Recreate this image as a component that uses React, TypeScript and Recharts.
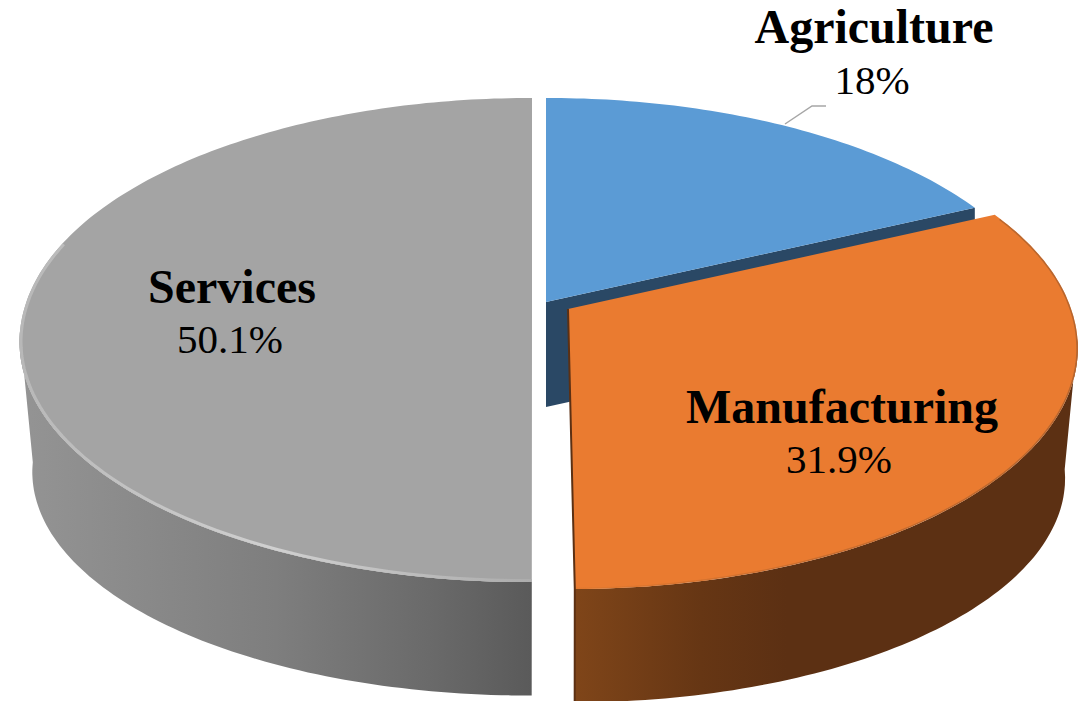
import { Pie, PieChart } from "recharts";

const categories = ["Agriculture", "Manufacturing", "Services"];
const shares = [18, 31.9, 50.1];
const shareLabels = ["18%", "31.9%", "50.1%"];

const chartData = categories.map((name, i) => ({ name, value: shares[i] }));

// projection of the tilted disc
const PERSPECTIVE = 0.157;
const TILT = 0.467;
const BOTTOM_X = 0.975;
const BOTTOM_Y = 0.93;
const WALL = 133;
const FONT = '"Liberation Serif", "Times New Roman", serif';

const SLICES = [
  { dx: 0, dy: 0, lean: 0, scale: 1, fill: "#5b9bd5", wall: "#2a4865", rim: "none" },
  { dx: 22, dy: 7, lean: 3, scale: 0.995, fill: "#ea7b30", wall: "url(#wallOrange)", rim: "url(#rimOrange)" },
  { dx: -14, dy: 0, lean: -4, scale: 1, fill: "#a4a4a4", wall: "url(#wallGray)", rim: "url(#rimGray)" },
];

const LABELS = [
  { nameX: 874, valueX: 872, nameY: 43, valueY: 94 },
  { nameX: 842, valueX: 839, nameY: 423, valueY: 473 },
  { nameX: 232, valueX: 230, nameY: 303, valueY: 353 },
];

function toPoint(props: any, index: number, theta: number, bottom = false) {
  const s = SLICES[index];
  const rad = (theta * Math.PI) / 180;
  const depth = 1 / (1 + PERSPECTIVE * Math.cos(rad));
  const rx = props.outerRadius * Math.sin(rad) * depth * s.scale;
  const ry = -props.outerRadius * TILT * Math.cos(rad) * depth;
  const leanX = (s.lean * Math.max(ry, 0)) / 280;
  if (bottom) {
    return [props.cx + s.dx + rx * BOTTOM_X + leanX, props.cy + s.dy + ry * BOTTOM_Y + WALL];
  }
  return [props.cx + s.dx + rx + leanX, props.cy + s.dy + ry];
}

function arcPoints(props: any, index: number, from: number, to: number, bottom = false) {
  const pts = [];
  const steps = Math.max(2, Math.ceil(Math.abs(to - from)));
  for (let i = 0; i <= steps; i++) {
    pts.push(toPoint(props, index, from + ((to - from) * i) / steps, bottom));
  }
  return pts;
}

function toPath(pts: number[][], close = false) {
  const d = pts.map((p, i) => `${i ? "L" : "M"}${p[0].toFixed(1)} ${p[1].toFixed(1)}`).join(" ");
  return close ? d + " Z" : d;
}

function Gradients() {
  return (
    <defs>
      <linearGradient id="wallGray" gradientUnits="userSpaceOnUse" x1="20" y1="0" x2="532" y2="0">
        <stop offset="0" stopColor="#949494" />
        <stop offset="0.5" stopColor="#7e7e7e" />
        <stop offset="0.8" stopColor="#6a6a6a" />
        <stop offset="1" stopColor="#5a5a5a" />
      </linearGradient>
      <linearGradient id="wallOrange" gradientUnits="userSpaceOnUse" x1="575" y1="0" x2="1078" y2="0">
        <stop offset="0" stopColor="#7f4519" />
        <stop offset="0.25" stopColor="#663614" />
        <stop offset="0.42" stopColor="#5c3013" />
        <stop offset="1" stopColor="#5c3013" />
      </linearGradient>
      <linearGradient id="rimGray" gradientUnits="userSpaceOnUse" x1="20" y1="0" x2="532" y2="0">
        <stop offset="0" stopColor="#b8b8b8" />
        <stop offset="0.5" stopColor="#d0d0d0" />
        <stop offset="1" stopColor="#acacac" />
      </linearGradient>
      <linearGradient id="rimOrange" gradientUnits="userSpaceOnUse" x1="575" y1="0" x2="1078" y2="0">
        <stop offset="0" stopColor="#e0782f" />
        <stop offset="0.5" stopColor="#b9662c" />
        <stop offset="1" stopColor="#a05c2c" />
      </linearGradient>
      <filter id="soft" x="-5%" y="-5%" width="110%" height="110%">
        <feGaussianBlur stdDeviation="0.7" />
      </filter>
    </defs>
  );
}

function Slice3D(props: any) {
  const index = categories.indexOf(props.name);
  const s = SLICES[index];
  // recharts angles run from the east, counter clockwise
  const from = 90 - props.startAngle;
  const to = 90 - props.endAngle;
  const apex = [props.cx + s.dx, props.cy + s.dy];
  const topPath = toPath([apex, ...arcPoints(props, index, from, to)], true);

  const wallFrom = Math.max(from, 97);
  const wallTo = Math.min(to, 263);
  const hasWall = wallTo > wallFrom;
  const edge = toPoint(props, index, to);

  return (
    <g>
      {index === 0 && <Gradients />}
      <clipPath id={`face${index}`}>
        <path d={topPath} />
      </clipPath>
      {hasWall ? (
        <path
          d={toPath(
            [...arcPoints(props, index, wallFrom, wallTo), ...arcPoints(props, index, wallTo, wallFrom, true)],
            true
          )}
          fill={s.wall}
        />
      ) : (
        <path
          d={toPath([apex, [apex[0], apex[1] + 105], [edge[0], edge[1] + 105], edge], true)}
          fill={s.wall}
        />
      )}
      <path d={topPath} fill={s.fill} />
      {hasWall && (
        <g clipPath={`url(#face${index})`}>
          <path
            d={toPath(arcPoints(props, index, Math.max(from, 66), Math.min(to, 285)))}
            fill="none"
            stroke={s.rim}
            strokeWidth={index === 2 ? 6 : 3}
            strokeOpacity={index === 2 ? 1 : 0.7}
            filter="url(#soft)"
          />
        </g>
      )}
      {index === 1 && (
        <path
          d={toPath([apex, edge, toPoint(props, index, to, true)])}
          fill="none"
          stroke="#5c3013"
          strokeWidth={2}
        />
      )}
    </g>
  );
}

function renderLabel(props: any) {
  const i = categories.indexOf(props.name);
  const pos = LABELS[i];
  return (
    <g key={props.name}>
      {i === 0 && (
        <polyline points="785,124 812,106 826,106" fill="none" stroke="#a6a6a6" strokeWidth={1.5} />
      )}
      <text x={pos.nameX} y={pos.nameY} textAnchor="middle" fontFamily={FONT} fontSize={48} fontWeight={700} fill="#000000">
        {categories[i]}
      </text>
      <text x={pos.valueX} y={pos.valueY} textAnchor="middle" fontFamily={FONT} fontSize={41} fill="#000000">
        {shareLabels[i]}
      </text>
    </g>
  );
}

export default function App() {
  return (
    <div style={{ position: "absolute", left: 0, top: 0, width: 1086, height: 701, background: "#ffffff", overflow: "hidden" }}>
      <PieChart width={1086} height={701} margin={{ top: 0, right: 0, bottom: 0, left: 0 }}>
        <Pie
          data={chartData}
          dataKey="value"
          nameKey="name"
          cx={546}
          cy={302}
          innerRadius={0}
          outerRadius={505.6}
          startAngle={90}
          endAngle={-270}
          paddingAngle={0}
          stroke="none"
          shape={Slice3D}
          label={renderLabel}
          labelLine={false}
          isAnimationActive={false}
        />
      </PieChart>
    </div>
  );
}
